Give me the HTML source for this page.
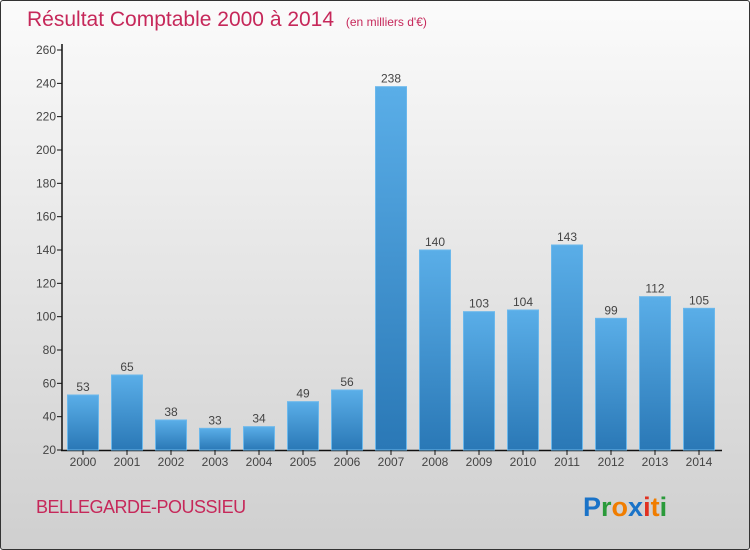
<!DOCTYPE html>
<html><head><meta charset="utf-8"><style>
body{margin:0}
#c{width:750px;height:550px;position:relative;box-sizing:border-box;border:1px solid #333;border-radius:3px;background:linear-gradient(#fbfbfb,#cfcfcf);overflow:hidden;font-family:"Liberation Sans",sans-serif}
</style></head><body>
<div id="c">
<svg width="750" height="550" style="position:absolute;left:-1px;top:-1px">
<defs><linearGradient id="bg" x1="0" y1="0" x2="0" y2="1"><stop offset="0" stop-color="#5aaee8"/><stop offset="1" stop-color="#2a78b6"/></linearGradient></defs>
<text x="27" y="26" font-size="21" fill="#c6285a">Résultat Comptable 2000 à 2014 <tspan font-size="12" dx="6">(en milliers d'€)</tspan></text>
<g id="plot"></g>
<text x="36" y="513" font-size="18" fill="#c6285a" letter-spacing="-0.5">BELLEGARDE-POUSSIEU</text>
<text x="583" y="516" font-size="27" font-weight="bold"><tspan fill="#1a73c8">P</tspan><tspan fill="#2a9a3a">r</tspan><tspan fill="#f07d00">o</tspan><tspan fill="#1a73c8">x</tspan><tspan fill="#e03020">i</tspan><tspan fill="#f07d00">t</tspan><tspan fill="#2a9a3a">i</tspan></text>
</svg>
</div>
<script>
const years=["2000","2001","2002","2003","2004","2005","2006","2007","2008","2009","2010","2011","2012","2013","2014"];
const values=[53,65,38,33,34,49,56,238,140,103,104,143,99,112,105];
const yTicks=[20,40,60,80,100,120,140,160,180,200,220,240,260];
const NS="http://www.w3.org/2000/svg";
const g=document.getElementById('plot');
const y=v=>450-(v-20)*400/240;
const x=i=>83+i*44;
function mk(t,a){const e=document.createElementNS(NS,t);for(const k in a)e.setAttribute(k,a[k]);g.appendChild(e);return e;}
let ax=mk('line',{x1:62,y1:44,x2:62,y2:451,stroke:'#111','stroke-width':1.5});


let bx=mk('line',{x1:61,y1:450.5,x2:722,y2:450.5,stroke:'#111','stroke-width':1.5});


yTicks.forEach(t=>{
 let l=mk('line',{x1:57,x2:62,y1:y(t),y2:y(t),stroke:'#111'});
 
 
 let tx=mk('text',{x:56,y:y(t)+4,'font-size':12,fill:'#444','text-anchor':'end'});
 tx.textContent=t;
 
 
});
values.forEach((v,i)=>{
 let r=mk('rect',{x:x(i)-15.5,y:y(v),width:31,height:450-y(v),fill:'url(#bg)',stroke:'#6bb8ec','stroke-width':1});
 
 
 let tl=mk('line',{x1:x(i),x2:x(i),y1:450,y2:455,stroke:'#111'});
 
 
 let xl=mk('text',{x:x(i),y:466,'font-size':12,fill:'#444','text-anchor':'middle'});
 xl.textContent=years[i];
 
 
 let vl=mk('text',{x:x(i),y:y(v)-4,'font-size':12,fill:'#444','text-anchor':'middle'});
 vl.textContent=v;
 
 
});
</script>
</body></html>
